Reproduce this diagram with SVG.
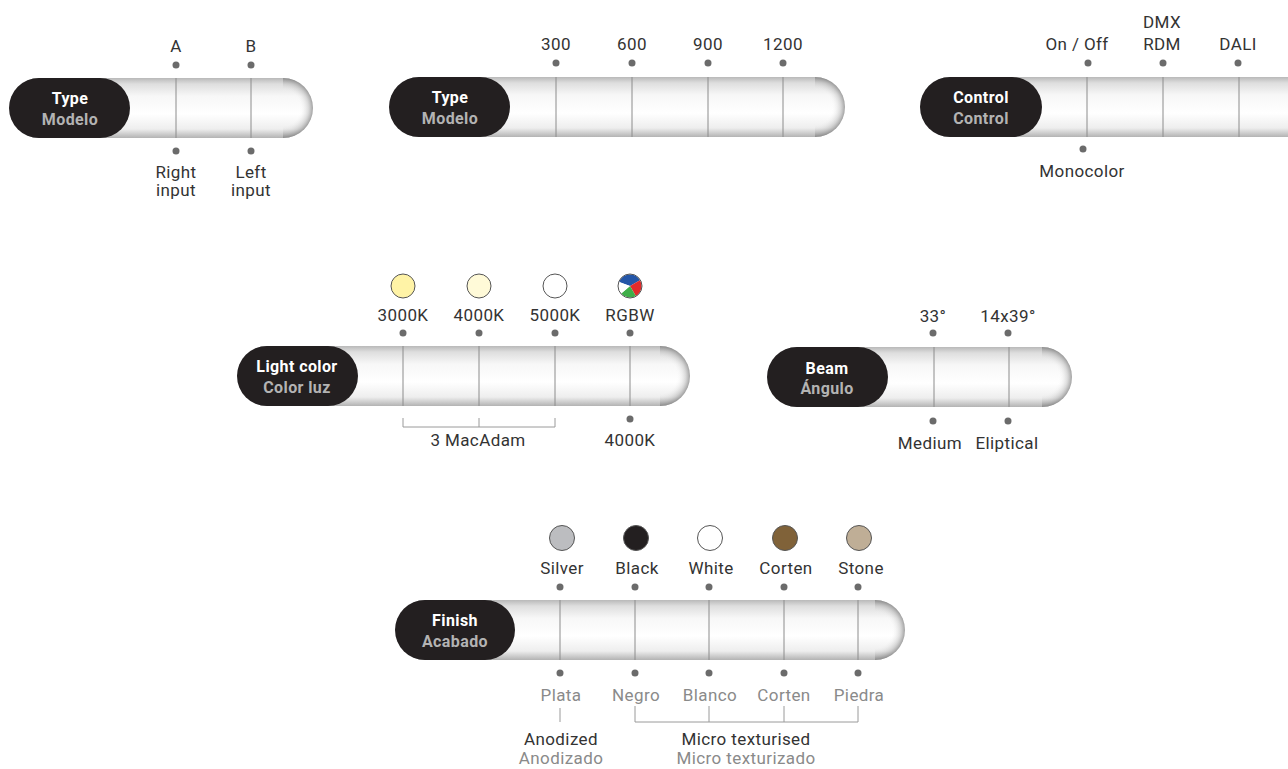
<svg xmlns="http://www.w3.org/2000/svg" width="1288" height="769" viewBox="0 0 1288 769">
<defs>
<linearGradient id="body" x1="0" y1="0" x2="0" y2="1">
<stop offset="0" stop-color="#b9b9b9"/>
<stop offset="0.1" stop-color="#dedede"/>
<stop offset="0.3" stop-color="#f7f7f7"/>
<stop offset="0.6" stop-color="#ffffff"/>
<stop offset="0.85" stop-color="#eeeeee"/>
<stop offset="1" stop-color="#b3b3b3"/>
</linearGradient>
<radialGradient id="cap" cx="0" cy="0.5" r="1" gradientTransform="translate(0,0.5) scale(1,0.5) translate(0,-0.5)">
<stop offset="0" stop-color="#ffffff" stop-opacity="0"/>
<stop offset="0.55" stop-color="#ffffff" stop-opacity="0"/>
<stop offset="0.85" stop-color="#9a9a9a" stop-opacity="0.35"/>
<stop offset="1" stop-color="#7a7a7a" stop-opacity="0.7"/>
</radialGradient>
</defs>
<style>
.body{fill:url(#body)}
.cap{fill:url(#cap)}
.dark{fill:#231f20}
.div{stroke:#8c8c8c;stroke-width:1;fill:none}
.dot{fill:#6b6b6b}
.lbl{font-family:Roboto,"DejaVu Sans",sans-serif;font-size:17px;fill:#333333;text-anchor:middle;letter-spacing:0.4px}
.es{fill:#8a8a8a}
.t1{font-family:Roboto,"DejaVu Sans",sans-serif;font-size:16px;font-weight:700;fill:#ffffff;text-anchor:middle;letter-spacing:0.4px}
.t2{font-family:Roboto,"DejaVu Sans",sans-serif;font-size:16px;font-weight:700;fill:#b3b3b3;text-anchor:middle;letter-spacing:0.4px}
.sw{stroke:#555555;stroke-width:1}
.br{stroke:#9a9a9a;stroke-width:1;fill:none}
</style>

<g id="type-ab">
<rect class="body" x="9" y="78" width="304" height="60" rx="30"/>
<path class="cap" d="M283,78 A30,30 0 0 1 283,138 Z"/>
<rect class="dark" x="9" y="78" width="121" height="60" rx="30"/>
<text class="t1" x="70" y="104">Type</text>
<text class="t2" x="70" y="125">Modelo</text>
<line class="div" x1="176" y1="78" x2="176" y2="138"/>
<line class="div" x1="251" y1="78" x2="251" y2="138"/>
<circle class="dot" cx="176" cy="65" r="3.5"/>
<circle class="dot" cx="251" cy="65" r="3.5"/>
<circle class="dot" cx="176" cy="151" r="3.5"/>
<circle class="dot" cx="251" cy="151" r="3.5"/>
<text class="lbl" x="176" y="52">A</text>
<text class="lbl" x="251" y="52">B</text>
<text class="lbl" x="176" y="178">Right</text>
<text class="lbl" x="176" y="196">input</text>
<text class="lbl" x="251" y="178">Left</text>
<text class="lbl" x="251" y="196">input</text>
</g>

<g id="type-length">
<rect class="body" x="389" y="77" width="456" height="60" rx="30"/>
<path class="cap" d="M815,77 A30,30 0 0 1 815,137 Z"/>
<rect class="dark" x="389" y="77" width="121" height="60" rx="30"/>
<text class="t1" x="450" y="103">Type</text>
<text class="t2" x="450" y="124">Modelo</text>
<line class="div" x1="556" y1="77" x2="556" y2="137"/>
<line class="div" x1="632" y1="77" x2="632" y2="137"/>
<line class="div" x1="708" y1="77" x2="708" y2="137"/>
<line class="div" x1="783" y1="77" x2="783" y2="137"/>
<circle class="dot" cx="556" cy="63" r="3.5"/>
<circle class="dot" cx="632" cy="63" r="3.5"/>
<circle class="dot" cx="708" cy="63" r="3.5"/>
<circle class="dot" cx="783" cy="63" r="3.5"/>
<text class="lbl" x="556" y="50">300</text>
<text class="lbl" x="632" y="50">600</text>
<text class="lbl" x="708" y="50">900</text>
<text class="lbl" x="783" y="50">1200</text>
</g>

<g id="control">
<rect class="body" x="920" y="77" width="400" height="60" rx="30"/>
<path class="cap" d="M1290,77 A30,30 0 0 1 1290,137 Z"/>
<rect class="dark" x="920" y="77" width="122" height="60" rx="30"/>
<text class="t1" x="981" y="103">Control</text>
<text class="t2" x="981" y="124">Control</text>
<line class="div" x1="1087" y1="77" x2="1087" y2="137"/>
<line class="div" x1="1163" y1="77" x2="1163" y2="137"/>
<line class="div" x1="1239" y1="77" x2="1239" y2="137"/>
<circle class="dot" cx="1088" cy="63" r="3.5"/>
<circle class="dot" cx="1163" cy="63" r="3.5"/>
<circle class="dot" cx="1238" cy="63" r="3.5"/>
<circle class="dot" cx="1083" cy="149" r="3.5"/>
<text class="lbl" x="1077" y="50">On / Off</text>
<text class="lbl" x="1162" y="28">DMX</text>
<text class="lbl" x="1162" y="50">RDM</text>
<text class="lbl" x="1238" y="50">DALI</text>
<text class="lbl" x="1082" y="177">Monocolor</text>
</g>

<g id="light-color">
<rect class="body" x="237" y="346" width="453" height="60" rx="30"/>
<path class="cap" d="M660,346 A30,30 0 0 1 660,406 Z"/>
<rect class="dark" x="237" y="346" width="121" height="60" rx="30"/>
<text class="t1" x="297" y="372">Light color</text>
<text class="t2" x="297" y="393">Color luz</text>
<line class="div" x1="403" y1="346" x2="403" y2="406"/>
<line class="div" x1="479" y1="346" x2="479" y2="406"/>
<line class="div" x1="555" y1="346" x2="555" y2="406"/>
<line class="div" x1="630" y1="346" x2="630" y2="406"/>
<circle class="dot" cx="403" cy="333" r="3.5"/>
<circle class="dot" cx="479" cy="333" r="3.5"/>
<circle class="dot" cx="555" cy="333" r="3.5"/>
<circle class="dot" cx="630" cy="333" r="3.5"/>
<circle class="dot" cx="630" cy="419" r="3.5"/>
<circle class="sw" cx="403" cy="286" r="12" fill="#fff3a6"/>
<circle class="sw" cx="479" cy="286" r="12" fill="#fffad8"/>
<circle class="sw" cx="555" cy="286" r="12" fill="#ffffff"/>
<g id="rgbw">
<path d="M630,286 L619.2,282.1 A11.5,11.5 0 0 1 640,280.3 Z" fill="#2456a8"/>
<path d="M630,286 L640,280.3 A11.5,11.5 0 0 1 635.8,296 Z" fill="#e32b2b"/>
<path d="M630,286 L635.8,296 A11.5,11.5 0 0 1 621.2,293.4 Z" fill="#3fae49"/>
<path d="M630,286 L621.2,293.4 A11.5,11.5 0 0 1 619.2,282.1 Z" fill="#ffffff"/>
<circle cx="630" cy="286" r="12" fill="none" stroke="#555555" stroke-width="1"/>
</g>
<text class="lbl" x="403" y="321">3000K</text>
<text class="lbl" x="479" y="321">4000K</text>
<text class="lbl" x="555" y="321">5000K</text>
<text class="lbl" x="630" y="321">RGBW</text>
<text class="lbl" x="478" y="446">3 MacAdam</text>
<text class="lbl" x="630" y="446">4000K</text>
</g>

<g id="beam">
<rect class="body" x="767" y="347" width="305" height="60" rx="30"/>
<path class="cap" d="M1042,347 A30,30 0 0 1 1042,407 Z"/>
<rect class="dark" x="767" y="347" width="121" height="60" rx="30"/>
<text class="t1" x="827" y="374">Beam</text>
<text class="t2" x="827" y="394">Ángulo</text>
<line class="div" x1="934" y1="347" x2="934" y2="407"/>
<line class="div" x1="1009" y1="347" x2="1009" y2="407"/>
<circle class="dot" cx="933" cy="333" r="3.5"/>
<circle class="dot" cx="1008" cy="333" r="3.5"/>
<circle class="dot" cx="933" cy="421" r="3.5"/>
<circle class="dot" cx="1008" cy="421" r="3.5"/>
<text class="lbl" x="933" y="322">33°</text>
<text class="lbl" x="1008" y="322">14x39°</text>
<text class="lbl" x="930" y="449">Medium</text>
<text class="lbl" x="1007" y="449">Eliptical</text>
</g>

<g id="finish">
<rect class="body" x="395" y="600" width="510" height="60" rx="30"/>
<path class="cap" d="M875,600 A30,30 0 0 1 875,660 Z"/>
<rect class="dark" x="395" y="600" width="120" height="60" rx="30"/>
<text class="t1" x="455" y="626">Finish</text>
<text class="t2" x="455" y="647">Acabado</text>
<line class="div" x1="560" y1="600" x2="560" y2="660"/>
<line class="div" x1="635" y1="600" x2="635" y2="660"/>
<line class="div" x1="709" y1="600" x2="709" y2="660"/>
<line class="div" x1="784" y1="600" x2="784" y2="660"/>
<line class="div" x1="858" y1="600" x2="858" y2="660"/>
<circle class="dot" cx="560" cy="587" r="3.5"/>
<circle class="dot" cx="635" cy="587" r="3.5"/>
<circle class="dot" cx="709" cy="587" r="3.5"/>
<circle class="dot" cx="784" cy="587" r="3.5"/>
<circle class="dot" cx="858" cy="587" r="3.5"/>
<circle class="dot" cx="560" cy="673" r="3.5"/>
<circle class="dot" cx="635" cy="673" r="3.5"/>
<circle class="dot" cx="709" cy="673" r="3.5"/>
<circle class="dot" cx="784" cy="673" r="3.5"/>
<circle class="dot" cx="858" cy="673" r="3.5"/>
<circle class="sw" cx="562" cy="538" r="12.5" fill="#bcbdc0"/>
<circle class="sw" cx="636" cy="538" r="12.5" fill="#231f20"/>
<circle class="sw" cx="710" cy="538" r="12.5" fill="#ffffff"/>
<circle class="sw" cx="785" cy="538" r="12.5" fill="#806239"/>
<circle class="sw" cx="859" cy="538" r="12.5" fill="#bfae96"/>
<text class="lbl" x="562" y="574">Silver</text>
<text class="lbl" x="637" y="574">Black</text>
<text class="lbl" x="711" y="574">White</text>
<text class="lbl" x="786" y="574">Corten</text>
<text class="lbl" x="861" y="574">Stone</text>
<text class="lbl es" x="561" y="701">Plata</text>
<text class="lbl es" x="636" y="701">Negro</text>
<text class="lbl es" x="710" y="701">Blanco</text>
<text class="lbl es" x="784" y="701">Corten</text>
<text class="lbl es" x="859" y="701">Piedra</text>
<text class="lbl" x="561" y="745">Anodized</text>
<text class="lbl es" x="561" y="764">Anodizado</text>
<text class="lbl" x="746" y="745">Micro texturised</text>
<text class="lbl es" x="746" y="764">Micro texturizado</text>
</g>

<g id="connectors">
<path class="br" d="M403,418 V427 H555 V418 M479,418 V427"/>
<path class="br" d="M560,708 V722"/>
<path class="br" d="M635,706 V722 H858 V706 M709,706 V722 M784,706 V722"/>
</g>
</svg>
